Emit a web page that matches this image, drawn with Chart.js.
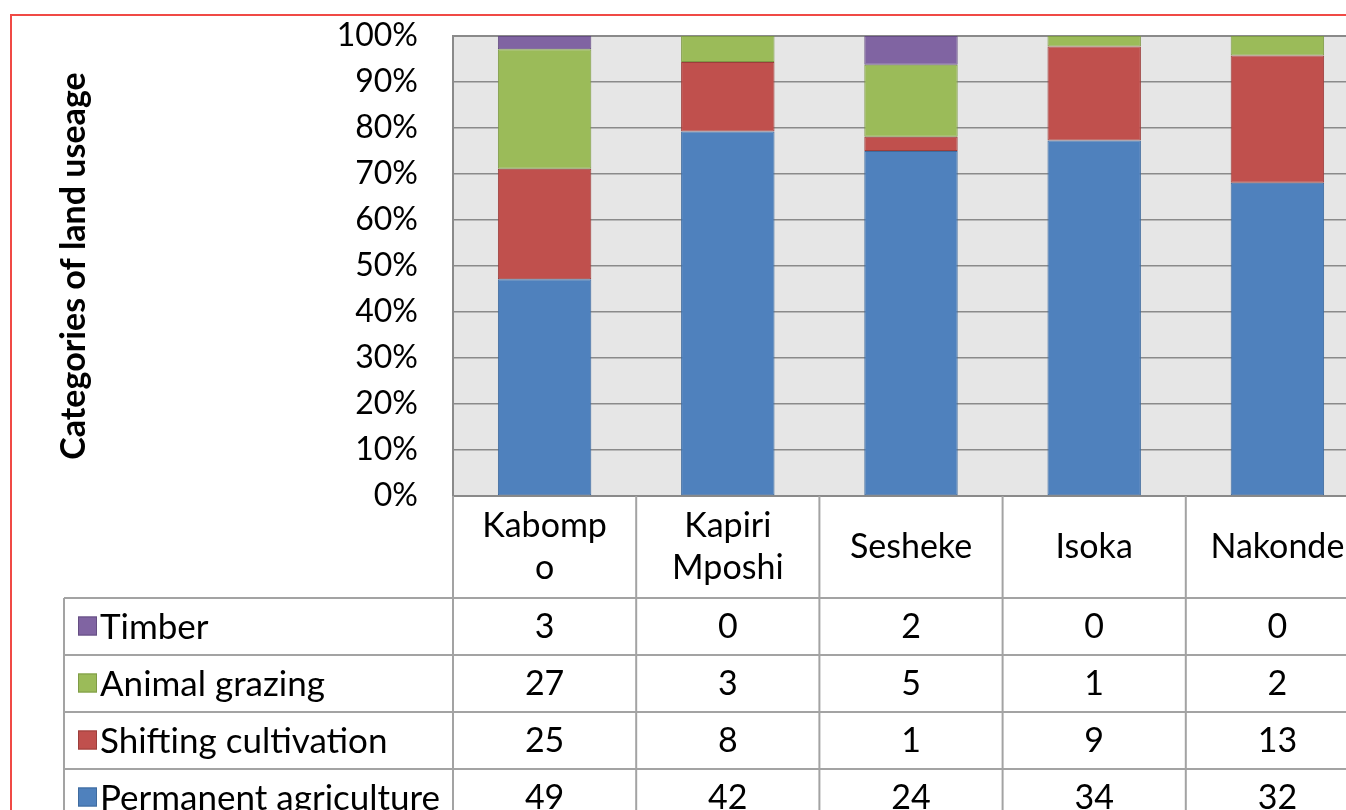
<!DOCTYPE html>
<html>
<head>
<meta charset="utf-8">
<title>Categories of land useage</title>
<script src="https://cdn.jsdelivr.net/npm/chart.js@4.4.1/dist/chart.umd.min.js"></script>
<style>
  html, body { margin: 0; padding: 0; background: #fff; overflow: hidden; }
  #frame { position: absolute; left: 10px; top: 14px; width: 1500px; height: 900px; border: 2px solid #f04a45; box-sizing: border-box; }
  #wrap { position: absolute; left: 0; top: 0; width: 1380px; height: 810px; }
</style>
</head>
<body>
<div id="frame"></div>
<div id="wrap"><canvas id="landChart" width="1380" height="810"></canvas></div>
<script>
/* Land use by district — 100% stacked columns with data table */

const categories  = ['Kabompo', 'Kapiri Mposhi', 'Sesheke', 'Isoka', 'Nakonde'];
const headerLines = [['Kabomp', 'o'], ['Kapiri', 'Mposhi'], ['Sesheke'], ['Isoka'], ['Nakonde']];

const permanent = [49, 42, 24, 34, 32];
const shifting  = [25, 8, 1, 9, 13];
const grazing   = [27, 3, 5, 1, 2];
const timber    = [3, 0, 2, 0, 0];

const BLUE   = '#4f81bd';
const RED    = '#c0504d';
const GREEN  = '#9bbb59';
const PURPLE = '#8064a2';

const FONT = 'Lato, "Open Sans", sans-serif';
const GRID = '#8a8a8a';
const TABLE_LINE = '#a3a3a3';

const totals = categories.map((_, i) => permanent[i] + shifting[i] + grazing[i] + timber[i]);
const pct = arr => arr.map((v, i) => v / totals[i] * 100);

const series = [
  { label: 'Permanent agriculture', raw: permanent, color: BLUE,   edge: '#3f6b9e' },
  { label: 'Shifting cultivation',  raw: shifting,  color: RED,    edge: '#9c3e3b' },
  { label: 'Animal grazing',        raw: grazing,   color: GREEN,  edge: '#7f9b46' },
  { label: 'Timber',                raw: timber,    color: PURPLE, edge: '#654e82' }
];

/* grey plot area behind the grid */
const plotBackground = {
  id: 'plotBackground',
  beforeDraw(chart) {
    const { ctx, chartArea: a } = chart;
    ctx.save();
    ctx.fillStyle = '#e6e6e6';
    ctx.fillRect(a.left, a.top, a.right - a.left, a.bottom - a.top);
    ctx.restore();
  },
  beforeDatasetsDraw(chart) {
    const { ctx, chartArea: a } = chart;
    ctx.save();
    ctx.strokeStyle = GRID;
    ctx.lineWidth = 2;
    ctx.strokeRect(a.left, a.top, a.right - a.left, a.bottom - a.top);
    ctx.restore();
  }
};

/* data table under the plot, one column per category */
const dataTable = {
  id: 'dataTable',
  afterDraw(chart) {
    const { ctx, chartArea: a, scales: { x } } = chart;
    const half = (a.right - a.left) / categories.length / 2;
    const headTop = a.bottom, headBottom = a.bottom + 102;
    const rowH = 57, labelLeft = 64;
    const rows = chart.data.datasets.slice().reverse();
    const tableBottom = headBottom + rowH * rows.length;

    ctx.save();
    ctx.strokeStyle = TABLE_LINE;
    ctx.lineWidth = 2;
    ctx.beginPath();
    // vertical rules
    ctx.moveTo(a.left, headTop); ctx.lineTo(a.left, tableBottom);
    ctx.moveTo(labelLeft, headBottom); ctx.lineTo(labelLeft, tableBottom);
    categories.forEach((_, i) => {
      const r = x.getPixelForValue(i) + half;
      ctx.moveTo(r, headTop); ctx.lineTo(r, tableBottom);
    });
    // horizontal rules
    for (let k = 0; k <= rows.length; k++) {
      const y = headBottom + rowH * k;
      ctx.moveTo(labelLeft, y); ctx.lineTo(a.right, y);
    }
    ctx.stroke();

    ctx.fillStyle = '#000';
    ctx.textAlign = 'center';
    ctx.textBaseline = 'middle';
    ctx.font = '34px ' + FONT;

    // category header
    headerLines.forEach((lines, i) => {
      const cx = x.getPixelForValue(i);
      const lh = 42;
      const y0 = (headTop + headBottom) / 2 - (lines.length - 1) * lh / 2;
      lines.forEach((t, j) => ctx.fillText(t, cx, y0 + j * lh));
    });

    // series rows
    rows.forEach((ds, k) => {
      const cy = headBottom + rowH * k + rowH / 2;
      ctx.fillStyle = ds.backgroundColor;
      ctx.fillRect(78, cy - 10, 19, 19);
      ctx.strokeStyle = ds.borderColor;
      ctx.lineWidth = 1;
      ctx.strokeRect(78.5, cy - 9.5, 18, 18);

      ctx.fillStyle = '#000';
      ctx.textAlign = 'left';
      ctx.font = '35px ' + FONT;
      ctx.fillText(ds.label, 100, cy + 1);
      ctx.textAlign = 'center';
      ctx.font = '34px ' + FONT;
      ds.raw.forEach((v, i) => ctx.fillText(String(v), x.getPixelForValue(i), cy + 1));
    });
    ctx.restore();
  }
};

new Chart(document.getElementById('landChart'), {
  type: 'bar',
  data: {
    labels: categories,
    datasets: series.map(s => ({
      label: s.label,
      raw: s.raw,
      data: pct(s.raw),
      backgroundColor: s.color,
      borderColor: s.edge,
      borderWidth: 1,
      borderSkipped: false,
      barPercentage: 0.51,
      categoryPercentage: 1
    }))
  },
  options: {
    responsive: false,
    animation: false,
    layout: { padding: { left: 0, top: 36, right: 11, bottom: 314 } },
    plugins: { legend: { display: false }, tooltip: { enabled: false } },
    scales: {
      x: { stacked: true, display: false },
      y: {
        stacked: true,
        min: 0, max: 100,
        afterFit(scale) { scale.width = 453; },
        border: { display: false },
        grid: { color: GRID, lineWidth: 1.5, drawTicks: true, tickLength: 35, tickColor: 'rgba(0,0,0,0)' },
        ticks: {
          stepSize: 10, padding: 0, color: '#000',
          font: { family: FONT, size: 32 },
          callback: v => v + '%'
        },
        title: {
          display: true,
          text: 'Categories of land useage',
          color: '#000',
          font: { family: FONT, size: 34, weight: 'bold', lineHeight: 1.2 },
          padding: { top: 54, bottom: 0 }
        }
      }
    }
  },
  plugins: [plotBackground, dataTable]
});
</script>
</body>
</html>
